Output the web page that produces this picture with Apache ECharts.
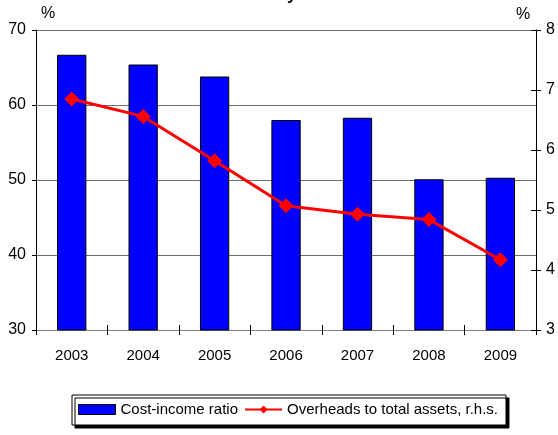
<!DOCTYPE html>
<html>
<head>
<meta charset="utf-8">
<script src="https://cdn.jsdelivr.net/npm/echarts@6/dist/echarts.min.js"></script>
<style>html,body{margin:0;padding:0;background:#fff}#c{width:558px;height:435px}</style>
</head>
<body>
<div id="c"></div>
<script>
var years = ['2003','2004','2005','2006','2007','2008','2009'];
var costIncome = [66.7, 65.4, 63.8, 58.0, 58.3, 50.1, 50.3];
var overheads = [6.85, 6.56, 5.82, 5.07, 4.93, 4.84, 4.17];
var leftTicks = {min: 30, max: 70, interval: 10};
var rightTicks = {min: 3, max: 8, interval: 1};

var FONT = '"Liberation Sans", Arial, sans-serif';
var chart = echarts.init(document.getElementById('c'), null, {renderer: 'canvas'});
chart.setOption({
  animation: false,
  backgroundColor: '#fff',
  title: {
    text: 'Cost efficiency indicators',
    left: 'center',
    top: -18,
    textStyle: {fontFamily: FONT, fontSize: 17, fontWeight: 'bold', color: '#000'}
  },
  grid: {left: 36, right: 21, top: 30, bottom: 105, containLabel: false},
  legend: {
    bottom: 10,
    left: 72,
    width: 440,
    orient: 'horizontal',
    itemGap: 6,
    padding: [7, 8, 8, 6],
    borderColor: '#000',
    borderWidth: 1,
    backgroundColor: '#fff',
    shadowColor: '#000',
    shadowBlur: 0,
    shadowOffsetX: 3,
    shadowOffsetY: 3,
    textStyle: {fontFamily: FONT, fontSize: 15, color: '#000'},
    data: [
      {name: 'Cost-income ratio', icon: 'rect', itemStyle: {color: '#0000FF', borderColor: '#000', borderWidth: 1}},
      {name: 'Overheads to total assets, r.h.s.'}
    ],
    itemWidth: 37,
    itemHeight: 10
  },
  graphic: [
    {type: 'text', left: 41, top: 6, style: {text: '%', font: '16px ' + FONT, fill: '#000'}},
    {type: 'text', left: 516, top: 7, style: {text: '%', font: '16px ' + FONT, fill: '#000'}}
  ],
  xAxis: [
    {
      type: 'category',
      data: years,
      boundaryGap: true,
      axisLine: {lineStyle: {color: '#808080', width: 1}},
      axisTick: {show: true, length: 5, inside: false, lineStyle: {color: '#000'}},
      axisLabel: {fontFamily: FONT, fontSize: 15, color: '#000', margin: 18},
      splitLine: {show: false}
    },
    {
      type: 'category',
      data: years,
      position: 'bottom',
      boundaryGap: true,
      axisLine: {show: false},
      axisTick: {show: true, length: 5, inside: true, lineStyle: {color: '#000'}},
      axisLabel: {show: false},
      splitLine: {show: false}
    }
  ],
  yAxis: [
    {
      type: 'value', position: 'left',
      min: leftTicks.min, max: leftTicks.max, interval: leftTicks.interval,
      axisLine: {show: true, lineStyle: {color: '#000'}},
      axisTick: {show: true, length: 4, lineStyle: {color: '#000'}},
      axisLabel: {fontFamily: FONT, fontSize: 16, color: '#000', margin: 10},
      splitLine: {show: true, lineStyle: {color: '#6e6e6e', width: 1}}
    },
    {
      type: 'value', position: 'right',
      min: rightTicks.min, max: rightTicks.max, interval: rightTicks.interval,
      axisLine: {show: true, lineStyle: {color: '#000'}},
      axisTick: {show: true, length: 5, lineStyle: {color: '#000'}},
      axisLabel: {fontFamily: FONT, fontSize: 16, color: '#000', margin: 10},
      splitLine: {show: false}
    },
    {
      type: 'value', position: 'right',
      min: rightTicks.min, max: rightTicks.max, interval: rightTicks.interval,
      axisLine: {show: false},
      axisTick: {show: true, inside: true, length: 5, lineStyle: {color: '#000'}},
      axisLabel: {show: false},
      splitLine: {show: false}
    }
  ],
  series: [
    {
      name: 'Cost-income ratio',
      type: 'bar',
      yAxisIndex: 0,
      data: costIncome,
      barWidth: '41%',
      itemStyle: {color: '#0000FF', borderColor: '#000', borderWidth: 1}
    },
    {
      name: 'Overheads to total assets, r.h.s.',
      type: 'line',
      yAxisIndex: 1,
      data: overheads,
      symbol: 'diamond',
      symbolSize: 15,
      lineStyle: {color: '#FF0000', width: 3},
      itemStyle: {color: '#FF0000'}
    }
  ]
});
</script>
</body>
</html>
